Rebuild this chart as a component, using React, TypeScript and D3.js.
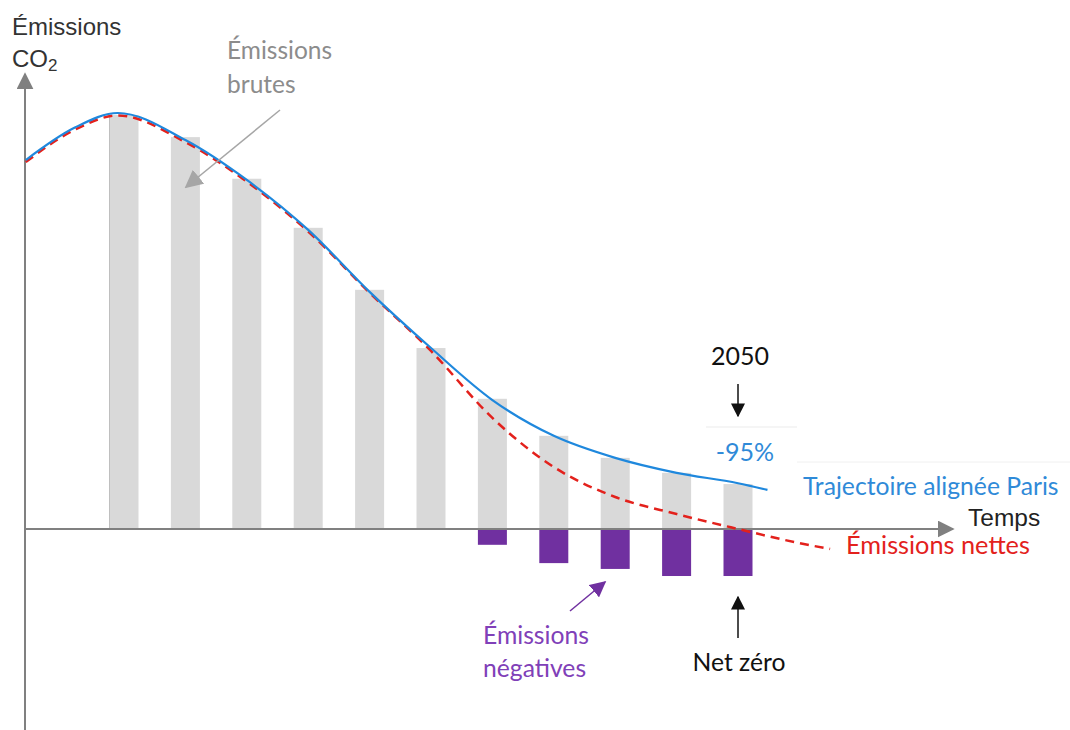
import { useEffect, useRef } from 'react';
import * as d3 from 'd3';

// bar years (one bar every 5 years, the last one is 2050)
const barYears = [2000, 2005, 2010, 2015, 2020, 2025, 2030, 2035, 2040, 2045, 2050];
const grossValues = [99.5, 94.2, 84.2, 72.4, 57.5, 43.5, 31.3, 22.4, 17.1, 13.5, 10.8];
const negativeValues = [0, 0, 0, 0, 0, 0, -3.8, -8.2, -9.6, -11.3, -11.3];

// "Trajectoire alignée Paris" (blue)
const parisYears = [1992, 1996, 1999.5, 2005, 2010, 2015, 2020, 2025, 2030, 2035, 2040, 2045, 2050, 2052.4];
const parisValues = [88.7, 96.5, 100, 93.5, 83.9, 71.9, 57, 43.5, 31, 22.4, 17.1, 13.5, 11, 9.4];

// "Émissions nettes" (red dashed)
const netYears = [1992, 1996, 1999.5, 2005, 2010, 2015, 2020, 2025, 2030, 2035, 2040, 2045, 2050, 2055, 2057.5];
const netValues = [88.2, 96, 99.4, 93, 83.5, 71.5, 56.8, 42.8, 26.7, 14.9, 7.7, 3.6, 0, -3.4, -4.8];

const W = 1070;
const H = 730;

export default function App() {
  const svgRef = useRef<SVGSVGElement>(null);

  useEffect(() => {
    if (!svgRef.current) return;
    const svg = d3.select(svgRef.current);
    svg.selectAll('*').remove();

    const x = d3.scaleLinear().domain([2000, 2050]).range([124, 738]);
    const y = d3.scaleLinear().domain([0, 100]).range([529, 113]);
    const barW = 29;

    const defs = svg.append('defs');
    const marker = (id: string, color: string, size: number) => {
      defs.append('marker')
        .attr('id', id)
        .attr('viewBox', '0 0 10 10')
        .attr('refX', 9)
        .attr('refY', 5)
        .attr('markerWidth', size)
        .attr('markerHeight', size)
        .attr('markerUnits', 'userSpaceOnUse')
        .attr('orient', 'auto')
        .append('path')
        .attr('d', 'M0,0 L10,5 L0,10 Z')
        .attr('fill', color);
    };
    marker('arrGray', '#a6a6a6', 18);
    marker('arrAxis', '#808080', 17);
    marker('arrBlack', '#111', 14);
    marker('arrPurple', '#7030a0', 16);

    // gross emission bars
    svg.append('g')
      .selectAll('rect')
      .data(barYears)
      .join('rect')
      .attr('x', d => x(d) - barW / 2)
      .attr('width', barW)
      .attr('y', (d, i) => y(grossValues[i]))
      .attr('height', (d, i) => y(0) - y(grossValues[i]))
      .attr('fill', '#d9d9d9');

    // thin line at left edge of first bar
    svg.append('line')
      .attr('x1', x(2000) - barW / 2).attr('x2', x(2000) - barW / 2)
      .attr('y1', y(grossValues[0])).attr('y2', y(0))
      .attr('stroke', '#bfbfbf').attr('stroke-width', 1);

    // negative emission bars
    svg.append('g')
      .selectAll('rect')
      .data(barYears.filter((d, i) => negativeValues[i] < 0))
      .join('rect')
      .attr('x', d => x(d) - barW / 2)
      .attr('width', barW)
      .attr('y', y(0))
      .attr('height', d => y(negativeValues[barYears.indexOf(d)]) - y(0))
      .attr('fill', '#7030a0');

    // axes
    svg.append('line')
      .attr('x1', 25).attr('y1', H).attr('x2', 25).attr('y2', 74)
      .attr('stroke', '#808080').attr('stroke-width', 2)
      .attr('marker-end', 'url(#arrAxis)');
    svg.append('line')
      .attr('x1', 25).attr('y1', y(0)).attr('x2', 953).attr('y2', y(0))
      .attr('stroke', '#808080').attr('stroke-width', 2)
      .attr('marker-end', 'url(#arrAxis)');

    // curves
    const line = d3.line<[number, number]>()
      .x(d => x(d[0]))
      .y(d => y(d[1]))
      .curve(d3.curveMonotoneX);

    svg.append('path')
      .datum(netYears.map((t, i) => [t, netValues[i]] as [number, number]))
      .attr('fill', 'none')
      .attr('stroke', '#e3211c')
      .attr('stroke-width', 2.5)
      .attr('stroke-dasharray', '9,6')
      .attr('d', line);

    svg.append('path')
      .datum(parisYears.map((t, i) => [t, parisValues[i]] as [number, number]))
      .attr('fill', 'none')
      .attr('stroke', '#1f88dd')
      .attr('stroke-width', 2.2)
      .attr('d', line);

    const calibri = 'Lato, "Open Sans", sans-serif';
    const arial = '"Liberation Sans", Arial, sans-serif';

    const text = (tx: number, ty: number, s: string, color: string, font: string, size: number) =>
      svg.append('text')
        .attr('x', tx).attr('y', ty)
        .attr('fill', color)
        .attr('font-family', font)
        .attr('font-size', size)
        .text(s);

    // y axis title
    text(12, 35, 'Émissions', '#333', arial, 24);
    const co2 = text(12, 67, 'CO', '#333', arial, 24);
    co2.append('tspan').attr('font-size', 17).attr('dy', 4).text('2');

    text(968, 526, 'Temps', '#222', arial, 24.5);

    // Émissions brutes
    text(227, 59, 'Émissions', '#8c8c8c', calibri, 24.5);
    text(227, 93, 'brutes', '#8c8c8c', calibri, 24.5);
    svg.append('line')
      .attr('x1', 280).attr('y1', 110).attr('x2', 186).attr('y2', 187)
      .attr('stroke', '#a6a6a6').attr('stroke-width', 1.5)
      .attr('marker-end', 'url(#arrGray)');

    // 2050 marker
    text(740, 365, '2050', '#111', calibri, 25).attr('text-anchor', 'middle');
    svg.append('line')
      .attr('x1', x(2050)).attr('y1', 384).attr('x2', x(2050)).attr('y2', 416)
      .attr('stroke', '#111').attr('stroke-width', 1.5)
      .attr('marker-end', 'url(#arrBlack)');
    svg.append('line')
      .attr('x1', 706).attr('y1', 427).attr('x2', 797).attr('y2', 427)
      .attr('stroke', '#ebebeb').attr('stroke-width', 1);
    svg.append('line')
      .attr('x1', 797).attr('y1', 462).attr('x2', 1070).attr('y2', 462)
      .attr('stroke', '#f0f0f0').attr('stroke-width', 1);
    text(745, 461, '-95%', '#2f8ad8', calibri, 25).attr('text-anchor', 'middle');

    text(803, 495, 'Trajectoire alignée Paris', '#2f8ad8', calibri, 24.7);
    text(846, 554, 'Émissions nettes', '#e3211c', calibri, 25.3);

    // Émissions négatives
    text(483, 644, 'Émissions', '#8040b8', calibri, 24.7);
    text(483, 677, 'négatives', '#8040b8', calibri, 24.7);
    svg.append('line')
      .attr('x1', 570).attr('y1', 611).attr('x2', 605).attr('y2', 582)
      .attr('stroke', '#7030a0').attr('stroke-width', 1.5)
      .attr('marker-end', 'url(#arrPurple)');

    // Net zéro
    svg.append('line')
      .attr('x1', x(2050)).attr('y1', 638).attr('x2', x(2050)).attr('y2', 597)
      .attr('stroke', '#111').attr('stroke-width', 1.5)
      .attr('marker-end', 'url(#arrBlack)');
    text(739, 671, 'Net zéro', '#111', calibri, 24.7).attr('text-anchor', 'middle');
  }, []);

  return (
    <svg ref={svgRef} width={W} height={H}
      style={{ position: 'absolute', left: 0, top: 0, background: '#fff' }} />
  );
}
